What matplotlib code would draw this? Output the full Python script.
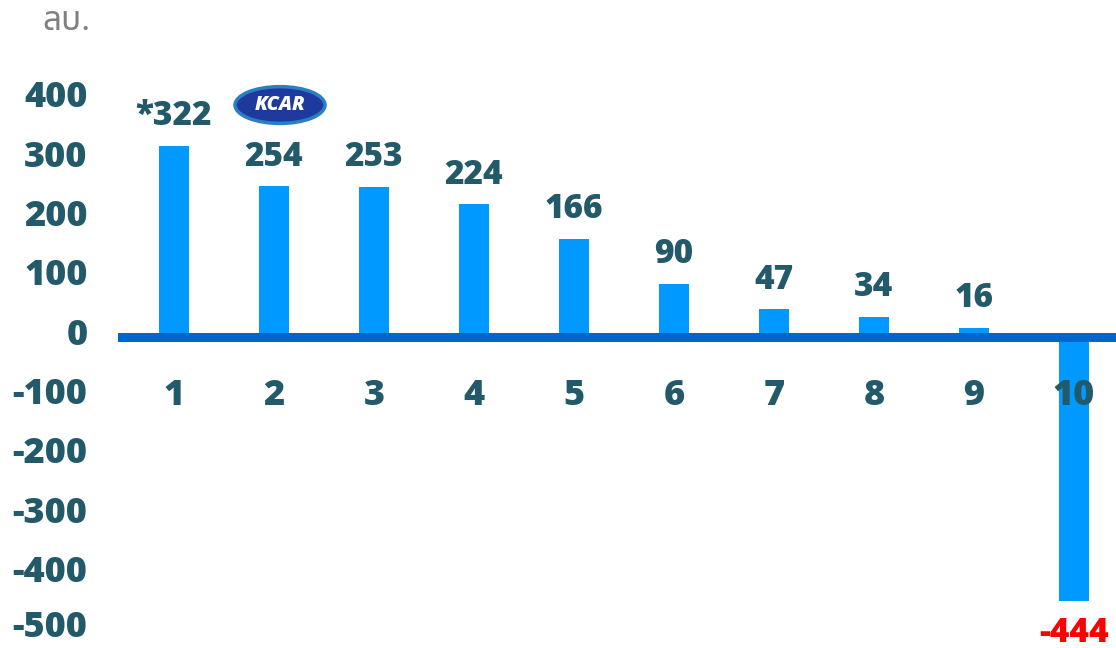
import matplotlib.pyplot as plt
from matplotlib.patches import Ellipse
from matplotlib.transforms import ScaledTranslation

# data
categories = [1, 2, 3, 4, 5, 6, 7, 8, 9, 10]
values = [322, 254, 253, 224, 166, 90, 47, 34, 16, -444]
value_labels = ["*322", "254", "253", "224", "166", "90", "47", "34", "16", "-444"]
y_ticks = [400, 300, 200, 100, 0, -100, -200, -300, -400, -500]

BAR = "#0099FF"
ZERO = "#0066CC"
TEXT = "#235A69"

plt.rcParams["font.family"] = ["Open Sans", "DejaVu Sans"]

fig = plt.figure(figsize=(11.16, 6.48), dpi=100)
ax = fig.add_axes([118 / 1116, 0, 1 - 118 / 1116, 1])

ax.bar(categories, values, width=0.3, color=BAR, zorder=2)
ax.axhline(0, color=ZERO, lw=6.5, zorder=3)

ax.set_xlim(0.44, 10.42)
ax.set_ylim(-524, 568)
ax.set_yticks(y_ticks)
ax.set_yticklabels([str(t) for t in y_ticks], fontsize=26, fontweight="heavy", color=TEXT)
ax.tick_params(axis="y", length=0, pad=22)
# nudge the tick labels up a little, like the original
# (the bottom one a bit more so it stays inside the picture)
for t, lab in zip(y_ticks, ax.get_yticklabels()):
    dy = 10 if t == y_ticks[-1] else 6
    lab.set_transform(lab.get_transform() + ScaledTranslation(0, dy / 100, fig.dpi_scale_trans))
ax.set_xticks([])
for s in ax.spines.values():
    s.set_visible(False)

# category numbers sit just under the zero line
for c in categories:
    ax.text(c, -100, str(c), ha="center", va="center", fontsize=26,
            fontweight="heavy", color=TEXT)

# value labels
for c, v, lab in zip(categories, values, value_labels):
    if v >= 0:
        ax.annotate(lab, (c, v), xytext=(0, 9), textcoords="offset points",
                    ha="center", va="bottom", fontsize=24, fontweight="heavy", color=TEXT)
    else:
        ax.annotate(lab, (c, v), xytext=(0, -11), textcoords="offset points",
                    ha="center", va="top", fontsize=24, fontweight="heavy", color="#FF0000")

# unit label (million baht)
fig.text(42 / 1116, 1 - 22 / 648, "ลบ.", ha="left", va="center", fontsize=24,
         color="#808080", family=["Noto Sans Thai", "Loma", "Garuda", "DejaVu Sans"])

# KCAR badge
ax.add_patch(Ellipse((2.06, 391), 0.9, 62, facecolor="#1F3A9E", edgecolor="#2A7FC4",
                     lw=2.5, zorder=4))
ax.text(2.06, 391, "KCAR", ha="center", va="center", fontsize=14, fontweight="heavy",
        style="italic", color="white", zorder=5)

fig.savefig("out.png", dpi=100)
